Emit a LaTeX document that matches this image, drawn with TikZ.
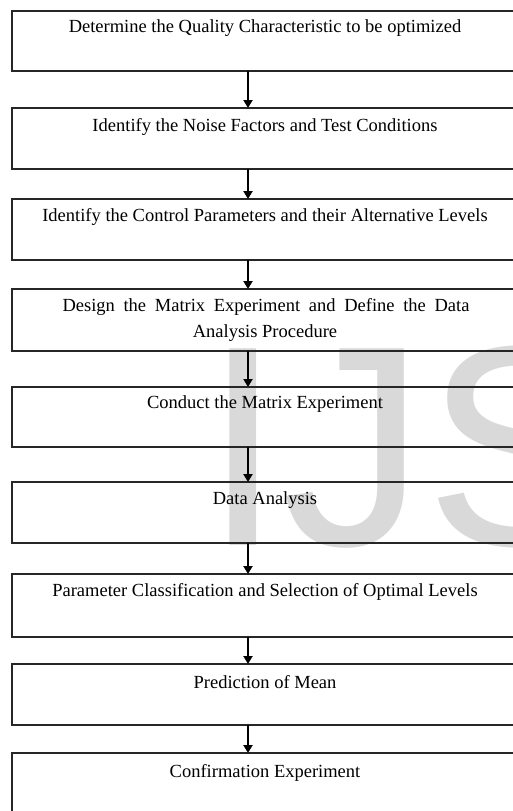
\documentclass[tikz,border=0pt]{standalone}
\usepackage{fontspec}
\setmainfont{Liberation Serif}
\newfontfamily\wmfont{Liberation Sans}
\usetikzlibrary{arrows.meta}
\definecolor{wmgray}{RGB}{217,217,217}
\tikzset{
  stepbox/.style={draw=black!85, line width=1.3pt},
  steptext/.style={anchor=center, inner sep=0pt, font=\fontsize{18.5}{26}\selectfont},
  flowarrow/.style={draw=black, line width=2.2pt, -{Triangle[width=9pt,length=8pt]}},
}
\begin{document}
\begin{tikzpicture}[x=1pt,y=-1pt]
\useasboundingbox (0,0) rectangle (513,811);
\begin{scope}
\clip (0,0) rectangle (513,811);
\fill[white] (0,0) rectangle (513,811);
% watermark
\node[anchor=base west, inner sep=0pt, text=wmgray, font=\wmfont\fontsize{286}{300}\selectfont] (wm) at (203,545) {IJS};
% boxes
\draw[stepbox] (12,11) rectangle (518,71);
\draw[stepbox] (12,108) rectangle (518,169);
\draw[stepbox] (12,199) rectangle (518,260);
\draw[stepbox] (12,289) rectangle (518,351);
\draw[stepbox] (12,387) rectangle (518,447);
\draw[stepbox] (12,482) rectangle (518,543);
\draw[stepbox] (12,574) rectangle (518,637);
\draw[stepbox] (12,664) rectangle (518,725);
\draw[stepbox] (12,753) rectangle (518,816);
% box anchors
\coordinate (b1s) at (248,71);  \coordinate (b2n) at (248,108);
\coordinate (b2s) at (248,169); \coordinate (b3n) at (248,199);
\coordinate (b3s) at (248,260); \coordinate (b4n) at (248,289);
\coordinate (b4s) at (248,351); \coordinate (b5n) at (248,387);
\coordinate (b5s) at (248,447); \coordinate (b6n) at (248,482);
\coordinate (b6s) at (248,543); \coordinate (b7n) at (248,574);
\coordinate (b7s) at (248,637); \coordinate (b8n) at (248,664);
\coordinate (b8s) at (248,725); \coordinate (b9n) at (248,753);
% texts
\node[steptext] (t1) at (265,28) {Determine the Quality Characteristic to be optimized};
\node[steptext] (t2) at (265,127) {Identify the Noise Factors and Test Conditions};
\node[steptext] (t3) at (265,217) {Identify the Control Parameters and their Alternative Levels};
\node[steptext] (t4a) at (266,307) {\makebox[407pt][s]{Design the Matrix Experiment and Define the Data}};
\node[steptext] (t4b) at (265,333) {Analysis Procedure};
\node[steptext] (t5) at (265,404) {Conduct the Matrix Experiment};
\node[steptext] (t6) at (265,500) {Data Analysis};
\node[steptext] (t7) at (265,592) {Parameter Classification and Selection of Optimal Levels};
\node[steptext] (t8) at (265,682) {Prediction of Mean};
\node[steptext] (t9) at (265,773) {Confirmation Experiment};
% arrows
\draw[flowarrow] (b1s) -- (b2n);
\draw[flowarrow] (b2s) -- (b3n);
\draw[flowarrow] (b3s) -- (b4n);
\draw[flowarrow] (b4s) -- (b5n);
\draw[flowarrow] (b5s) -- (b6n);
\draw[flowarrow] (b6s) -- (b7n);
\draw[flowarrow] (b7s) -- (b8n);
\draw[flowarrow] (b8s) -- (b9n);
\end{scope}
\end{tikzpicture}
\end{document}
